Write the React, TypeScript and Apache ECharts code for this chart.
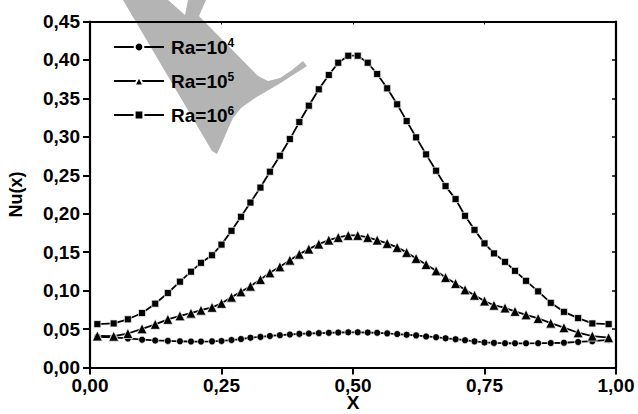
import React, { useEffect, useRef } from "react";
import * as echarts from "echarts";

const X = [
  0.014, 0.045, 0.072, 0.099, 0.124, 0.148, 0.171, 0.192, 0.211, 0.232, 0.25, 0.269,
  0.287, 0.305, 0.324, 0.342, 0.361, 0.38, 0.398, 0.416, 0.435, 0.454, 0.472, 0.491,
  0.509, 0.528, 0.546, 0.565, 0.584, 0.602, 0.62, 0.639, 0.658, 0.676, 0.695, 0.713,
  0.731, 0.75, 0.768, 0.789, 0.808, 0.829, 0.852, 0.876, 0.901, 0.928, 0.955, 0.986,
];

const RA4 = [
  0.04, 0.0392, 0.0378, 0.0362, 0.0352, 0.0346, 0.0341, 0.0338, 0.0337, 0.034, 0.0345, 0.0357,
  0.037, 0.0388, 0.0398, 0.041, 0.042, 0.0429, 0.0437, 0.0442, 0.0447, 0.0451, 0.0455, 0.0458,
  0.0458, 0.0455, 0.0451, 0.0444, 0.0435, 0.0426, 0.0418, 0.0404, 0.0394, 0.038, 0.0368, 0.0355,
  0.034, 0.0326, 0.032, 0.0316, 0.0315, 0.0315, 0.0316, 0.0318, 0.0322, 0.0332, 0.0342, 0.036,
];

const RA5 = [
  0.041, 0.0407, 0.0442, 0.0503, 0.0562, 0.0627, 0.0672, 0.0707, 0.0746, 0.0783, 0.0835, 0.0915,
  0.0984, 0.1058, 0.1145, 0.1231, 0.1309, 0.1396, 0.1474, 0.154, 0.1605, 0.1657, 0.1692, 0.1718,
  0.1718, 0.1692, 0.1657, 0.1614, 0.1562, 0.1497, 0.1419, 0.134, 0.1257, 0.1171, 0.1093, 0.101,
  0.094, 0.0865, 0.081, 0.0775, 0.073, 0.0685, 0.0638, 0.0577, 0.0518, 0.0452, 0.0409, 0.0388,
];

const RA6 = [
  0.0564, 0.0573, 0.0627, 0.0709, 0.083, 0.0969, 0.1116, 0.1246, 0.1361, 0.146, 0.1598, 0.1778,
  0.196, 0.2145, 0.234, 0.2546, 0.2754, 0.2971, 0.3192, 0.3405, 0.3618, 0.3804, 0.3964, 0.4055,
  0.4055, 0.3964, 0.3817, 0.3631, 0.3423, 0.3205, 0.2993, 0.2772, 0.2559, 0.2359, 0.219, 0.1973,
  0.179, 0.1614, 0.1484, 0.1374, 0.1257, 0.1127, 0.099, 0.0841, 0.0724, 0.0642, 0.0573, 0.0564,
];

const SERIES_NAMES = ["Ra=10^4", "Ra=10^5", "Ra=10^6"];
const LEGEND_BASE = ["Ra=10", "Ra=10", "Ra=10"];
const LEGEND_EXP = ["4", "5", "6"];
const X_TICKS = [0, 0.25, 0.5, 0.75, 1];
const Y_TICKS = [0, 0.05, 0.1, 0.15, 0.2, 0.25, 0.3, 0.35, 0.4, 0.45];

const FONT = "'Liberation Sans', Arial, sans-serif";

const WATERMARK = [
  [123, 0], [168, 0], [185, 15], [188, 0], [206, 0], [199, 16], [258, 76], [268, 81],
  [280, 78], [292, 70], [303, 61], [307, 66], [279, 84], [255, 98], [241, 108], [233, 118],
  [228, 129], [222, 143], [217, 154], [212, 151],
];

const fmt = (v: number) => v.toFixed(2).replace(".", ",");

export default function App() {
  const ref = useRef<HTMLDivElement>(null);
  useEffect(() => {
    if (!ref.current) return;
    const chart = echarts.init(ref.current, undefined, { renderer: "svg" });
    const datas = [RA4, RA5, RA6];
    const symbols = ["circle", "triangle", "rect"];
    const sizes = [7, 10, 7];
    const axisCommon = {
      type: "value" as const,
      splitLine: { show: false },
      axisLine: { show: true, onZero: false, lineStyle: { color: "#000", width: 2.2 } },
    };
    chart.setOption({
      animation: false,
      backgroundColor: "#fff",
      textStyle: { fontFamily: FONT },
      grid: {
        left: 90,
        right: 22,
        top: 21.5,
        bottom: 46.5,
        containLabel: false,
        outerBoundsMode: "none",
      },
      graphic: [
        {
          type: "polygon",
          z: 0,
          silent: true,
          shape: { points: WATERMARK },
          style: { fill: "#b4b4b4" },
        },
      ],
      legend: {
        orient: "vertical",
        left: 113,
        top: 37,
        padding: 0,
        itemWidth: 50,
        itemHeight: 11,
        itemGap: 12,
        data: SERIES_NAMES,
        formatter: (name: string) => {
          const i = SERIES_NAMES.indexOf(name);
          return `${LEGEND_BASE[i]}{s|${LEGEND_EXP[i]}}`;
        },
        textStyle: {
          fontFamily: FONT,
          fontSize: 19,
          fontWeight: "bold",
          color: "#000",
          lineHeight: 20,
          padding: [0, 0, 0, 2],
          rich: {
            s: {
              fontFamily: FONT,
              fontSize: 12,
              fontWeight: "bold",
              color: "#000",
              verticalAlign: "top",
              lineHeight: 12,
              padding: [0, 0, 10, 0],
            },
          },
        },
      },
      xAxis: [
        {
          ...axisCommon,
          min: 0,
          max: 1,
          interval: 0.25,
          name: "X",
          nameLocation: "middle",
          nameGap: 27,
          nameMoveOverlap: false,
          nameTextStyle: {
            fontFamily: FONT,
            fontSize: 19,
            fontWeight: "bold",
            color: "#000",
            lineHeight: 15,
          },
          axisTick: { show: true, inside: false, length: 7, lineStyle: { width: 2, color: "#000" } },
          axisLabel: {
            formatter: (v: number) => (X_TICKS.includes(v) ? fmt(v) : ""),
            fontFamily: FONT,
            fontSize: 19,
            fontWeight: "bold",
            color: "#000",
            lineHeight: 16,
            margin: 10,
          },
        },
        {
          ...axisCommon,
          position: "top",
          min: 0,
          max: 1,
          interval: 0.25,
          axisTick: { show: true, inside: true, length: 3, lineStyle: { width: 1, color: "#000" } },
          axisLabel: { show: false },
        },
      ],
      yAxis: [
        {
          ...axisCommon,
          min: 0,
          max: 0.45,
          interval: 0.05,
          name: "Nu(x)",
          nameLocation: "middle",
          nameRotate: 90,
          nameGap: 65,
          nameMoveOverlap: false,
          nameTextStyle: { fontFamily: FONT, fontSize: 18, fontWeight: "bold", color: "#000" },
          axisTick: { show: true, inside: false, length: 7, lineStyle: { width: 2, color: "#000" } },
          axisLabel: {
            formatter: (v: number) => (Y_TICKS.some((t) => Math.abs(t - v) < 1e-9) ? fmt(v) : ""),
            fontFamily: FONT,
            fontSize: 19,
            fontWeight: "bold",
            color: "#000",
            margin: 10,
          },
        },
        {
          ...axisCommon,
          position: "right",
          min: 0,
          max: 0.45,
          interval: 0.05,
          axisTick: { show: true, inside: true, length: 4, lineStyle: { width: 1.5, color: "#000" } },
          axisLabel: { show: false },
        },
      ],
      series: SERIES_NAMES.map((name, k) => ({
        name,
        type: "line",
        xAxisIndex: 0,
        yAxisIndex: 0,
        data: X.map((x, i) => [x, datas[k][i]]),
        symbol: symbols[k],
        symbolSize: sizes[k],
        showAllSymbol: true,
        color: "#000",
        lineStyle: { color: "#000", width: 1.8 },
        itemStyle: { color: "#000", borderColor: "#fff", borderWidth: 0.7 },
        z: 3,
      })),
    });
    return () => chart.dispose();
  }, []);
  return (
    <div
      ref={ref}
      style={{ position: "fixed", left: 0, top: 0, width: 638, height: 414 }}
    />
  );
}
